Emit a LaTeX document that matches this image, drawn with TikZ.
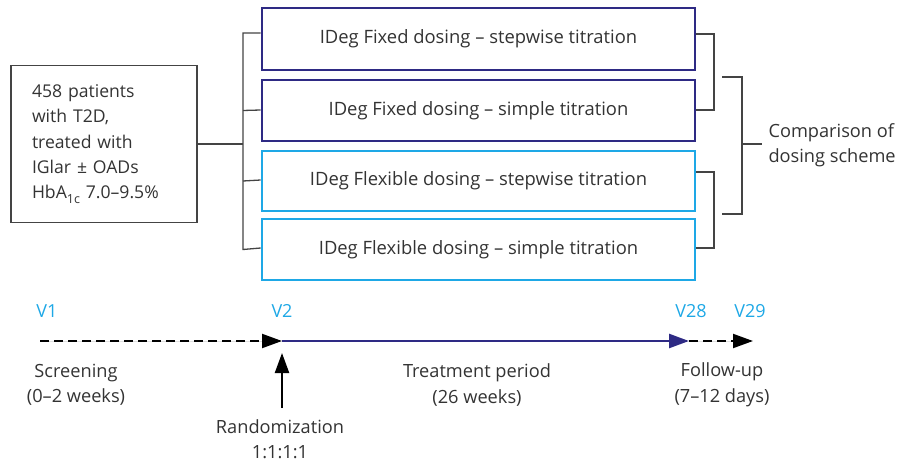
\documentclass[tikz,border=0pt]{standalone}
\usepackage{fontspec}
\setmainfont{Open Sans}
\usetikzlibrary{arrows.meta}
\definecolor{navy}{HTML}{2E2A84}
\definecolor{sky}{HTML}{1EA8E6}
\definecolor{ink}{HTML}{333333}
\definecolor{rule}{HTML}{444444}
\tikzset{
  armbox/.style={draw, line width=2.6pt, minimum width=433pt, inner sep=0pt,
    font=\fontsize{18.4}{20}\selectfont, text=ink},
  fixedarm/.style={armbox, draw=navy},
  flexarm/.style={armbox, draw=sky},
  link/.style={draw=rule, line width=1.3pt},
  lbl/.style={font=\fontsize{18.2}{25.5}\selectfont, text=ink, align=center},
  visit/.style={font=\fontsize{18}{20}\selectfont, text=sky},
  bigtip/.style={-{Triangle[length=20pt,width=14pt]}},
}
\begin{document}
\begin{tikzpicture}[x=1pt,y=-1pt]
\useasboundingbox (0,0) rectangle (899,462);

% population box
\node[draw=rule, line width=1.5pt, minimum width=186pt, minimum height=157pt,
      text width=144pt, align=left, font=\fontsize{17.6}{25.3}\selectfont, text=ink,
      inner sep=0pt] (pop) at (104,144)
  {458 patients\\with T2D,\\treated with\\IGlar ± OADs\\HbA\raisebox{-4.5pt}{\fontsize{12.5}{12}\selectfont 1c} 7.0–9.5\%};

% four treatment arms
\node[fixedarm, minimum height=62pt] (b1) at (478.5,39) {IDeg Fixed dosing – stepwise titration};
\node[fixedarm, minimum height=61pt] (b2) at (478.5,110.5) {IDeg Fixed dosing – simple titration};
\node[flexarm, minimum height=60pt] (b3) at (478.5,181) {IDeg Flexible dosing – stepwise titration};
\node[flexarm, minimum height=61pt] (b4) at (478.5,249.5) {IDeg Flexible dosing – simple titration};

% randomisation tree
\coordinate (fork) at (243,144);
\draw[link] (pop.east |- fork) -- (fork);
\draw[link] (b1.west |- 0,33) -| (b4.west -| fork) -- (b4.west |- 0,248);
\draw[link] (b2.west |- 0,110) -- (b2.west -| fork);
\draw[link] (b3.west |- 0,180) -- (b3.west -| fork);

% comparison brackets
\draw[link] (b1.east |- 0,34) -- (714,34) -- (714,110) -- (b2.east |- 0,110);
\draw[link] (b3.east |- 0,172) -- (714,172) -- (714,248) -- (b4.east |- 0,248);
\coordinate (cmp) at (742,144);
\draw[link] (722,77) -- (742,77) -- (742,214) -- (722,214);
\draw[link] (cmp) -- (762,144);
\node[lbl, align=left, anchor=west] (cmptxt) at (765,145) {Comparison of\\dosing scheme};

% timeline
\coordinate (t1) at (40,341);
\coordinate (t2) at (282,341);
\coordinate (t28) at (689,341);
\coordinate (t29) at (753,341);
\draw[bigtip, line width=2pt, dash pattern=on 9pt off 5pt, draw=black, fill=black] (t1) -- (t2);
\draw[bigtip, line width=2.6pt, draw=navy, fill=navy] (t2) -- (t28);
\draw[bigtip, line width=2pt, dash pattern=on 9pt off 5pt, draw=black, fill=black] (t28) -- (t29);

\node[visit] (v1) at (47,311) {V1};
\node[visit] (v2) at (282,311) {V2};
\node[visit] (v28) at (691,311) {V28};
\node[visit] (v29) at (750,311) {V29};

\node[lbl] (scr) at (76,385) {Screening\\(0–2 weeks)};
\node[lbl] (trt) at (477,385) {Treatment period\\(26 weeks)};
\node[lbl] (fup) at (722,385) {Follow-up\\(7–12 days)};

\node[lbl] (rnd) at (280,439) {Randomization\\1:1:1:1};
\coordinate (rndtop) at (282,408);
\coordinate (rndtip) at (282,353);
\draw[bigtip, line width=2.2pt, draw=black, fill=black] (rndtop) -- (rndtip);
\end{tikzpicture}
\end{document}
